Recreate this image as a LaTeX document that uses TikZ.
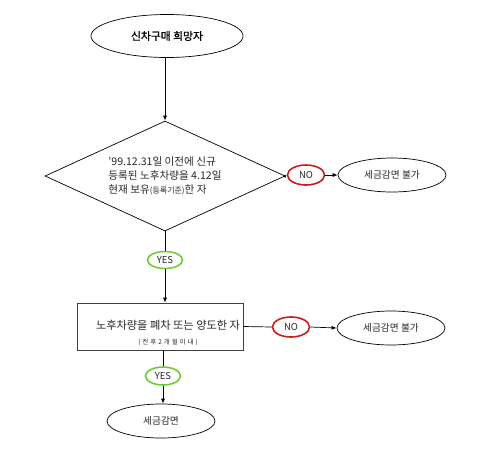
\documentclass[tikz,border=0pt]{standalone}
\usepackage{fontspec}
\setmainfont{Noto Sans CJK KR}
\usepackage{xcolor}
\usetikzlibrary{arrows.meta, positioning, shapes.geometric}
\definecolor{noRed}{RGB}{200,30,30}
\definecolor{yesGreen}{RGB}{110,205,55}
\definecolor{inkGray}{RGB}{40,40,40}

\begin{document}
\begin{tikzpicture}[
    x=1pt, y=-1pt,
    line width=0.7pt,
    font=\fontsize{10}{14}\selectfont,
    text=inkGray,
    term/.style={draw, ellipse, inner sep=0pt, minimum width=108pt, minimum height=34pt, font=\fontsize{9.7}{12}\selectfont},
    cond/.style={draw, diamond, aspect=2.2, inner sep=0pt, minimum width=240pt, minimum height=110pt, align=left, font=\fontsize{10.6}{14}\selectfont},
    procbox/.style={draw=black!75, rectangle, minimum width=166pt, minimum height=47pt},
    noring/.style={draw=noRed, line width=1.6pt, ellipse, inner sep=0pt, minimum width=37pt, minimum height=20pt, font=\fontsize{9.5}{10}\selectfont},
    yesring/.style={draw=yesGreen, line width=1.6pt, ellipse, inner sep=0pt, minimum width=35pt, minimum height=17pt, font=\fontsize{9.5}{10}\selectfont},
    arrow/.style={-{Latex[length=5pt, width=4pt]}},
    small arrow/.style={-{Latex[length=3pt, width=3pt]}}
]
\useasboundingbox (0,0) rectangle (500,458);

% flow
\node[term, minimum width=152pt, minimum height=43pt, text=black, font=\fontsize{10.8}{12}\selectfont\addfontfeature{FakeBold=1.2}] (start) at (167,36) {신차구매 희망자};
\node[cond] (dia) at (165,176) {’99.12.31일 이전에 신규\\등록된 노후차량을 4.12일\\현재 보유{\fontsize{8}{8}\selectfont(등록기준)}한 자};
\node[noring] (no1) at (306,175) {NO};
\node[term] (fail1) at (392,175) {세금감면 불가};
\node[yesring] (yes1) at (165,260) {YES};
\node[procbox] (act) at (160,326.5) {};
\node[align=center, inner sep=0pt] (acttxt) at (168,333) {{\fontsize{11.2}{14}\selectfont 노후차량을 폐차 또는 양도한 자}\\[1pt]
  {\fontsize{6.5}{7}\selectfont\addfontfeature{LetterSpace=30}(전후2개월이내)}};
\node[noring] (no2) at (291,327) {NO};
\node[term] (fail2) at (391,328) {세금감면 불가};
\node[yesring, minimum height=18pt] (yes2) at (163,376) {YES};
\node[term] (done) at (161,421) {세금감면};

% connectors
\draw[arrow] (start.south -| dia.north) -- (dia.north);
\draw (dia.south) -- (yes1.north);
\draw[arrow] (yes1.south) -- (yes1.south |- act.north);
\draw[small arrow] (dia.east) -- (no1.west);
\draw[arrow] (no1.east) -- (fail1.west);
\draw (act.east) -- (no2.west);
\draw[arrow] (no2.east) -- (fail2.west);
\draw (act.south -| yes2.south) -- (yes2.north);
\draw[arrow] (yes2.south) -- (yes2.south |- done.north);

\end{tikzpicture}
\end{document}
